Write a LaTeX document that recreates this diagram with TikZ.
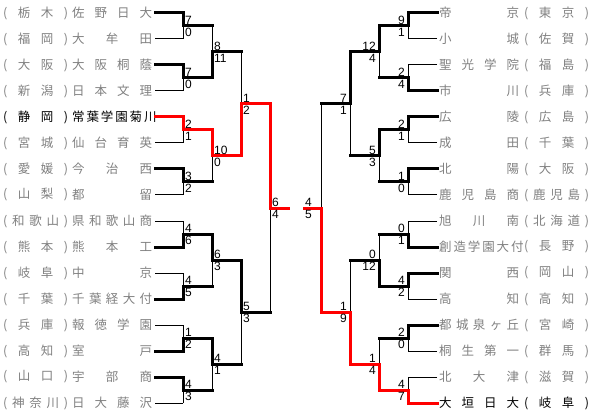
\documentclass[tikz,border=0pt]{standalone}
\usepackage{fontspec}
\setmainfont{Liberation Sans}
\newfontfamily\jpfont{Noto Sans CJK JP}
\definecolor{BrRed}{HTML}{FF0000}
\definecolor{BrGray}{HTML}{808080}
\tikzset{
  lost/.style={black,line width=1pt},
  won/.style={black,line width=3pt,line cap=rect},
  pick/.style={BrRed,line width=3pt,line cap=rect},
  team/.style={inner sep=0pt,font=\jpfont\fontsize{12.5}{14}\selectfont},
  score/.style={inner sep=0pt,font=\fontsize{12}{13}\selectfont}
}
\begin{document}
\begin{tikzpicture}[x=1pt,y=-1pt,line join=miter]
  \useasboundingbox (0,0) rectangle (592,417);
  % left block: prefecture, school, first-round line
  \foreach \i/\p/\n/\c/\s in {0/{( 栃 木 )}/{佐 野 日 大}/BrGray/won,
      1/{( 福 岡 )}/{大 牟 田}/BrGray/lost, 2/{( 大 阪 )}/{大 阪 桐 蔭}/BrGray/won,
      3/{( 新 潟 )}/{日 本 文 理}/BrGray/lost, 4/{( 静 岡 )}/{常 葉 学 園 菊 川}/black/pick,
      5/{( 宮 城 )}/{仙 台 育 英}/BrGray/lost, 6/{( 愛 媛 )}/{今 治 西}/BrGray/won,
      7/{( 山 梨 )}/{都 留}/BrGray/lost, 8/{( 和 歌 山 )}/{県 和 歌 山 商}/BrGray/lost,
      9/{( 熊 本 )}/{熊 本 工}/BrGray/won, 10/{( 岐 阜 )}/{中 京}/BrGray/lost,
      11/{( 千 葉 )}/{千 葉 経 大 付}/BrGray/won, 12/{( 兵 庫 )}/{報 徳 学 園}/BrGray/lost,
      13/{( 高 知 )}/{室 戸}/BrGray/won, 14/{( 山 口 )}/{宇 部 商}/BrGray/won,
      15/{( 神 奈 川 )}/{日 大 藤 沢}/BrGray/lost}{
    \node[team,text=\c,anchor=west] (LP\i) at (3,{13+26*\i}) {\makebox[65pt][s]{\p}};
    \node[team,text=\c,anchor=west] (LN\i) at (72,{13+26*\i}) {\makebox[80pt][s]{\n}};
    \draw[\s] ([xshift=3pt]LN\i.east) -- (183,{13+26*\i});
  }
  % right block
  \foreach \i/\n/\p/\c/\s in {0/{帝 京}/{( 東 京 )}/BrGray/won,
      1/{小 城}/{( 佐 賀 )}/BrGray/lost, 2/{聖 光 学 院}/{( 福 島 )}/BrGray/lost,
      3/{市 川}/{( 兵 庫 )}/BrGray/won, 4/{広 陵}/{( 広 島 )}/BrGray/won,
      5/{成 田}/{( 千 葉 )}/BrGray/lost, 6/{北 陽}/{( 大 阪 )}/BrGray/won,
      7/{鹿 児 島 商}/{( 鹿 児 島 )}/BrGray/lost, 8/{旭 川 南}/{( 北 海 道 )}/BrGray/lost,
      9/{創 造 学 園 大 付}/{( 長 野 )}/BrGray/won, 10/{関 西}/{( 岡 山 )}/BrGray/won,
      11/{高 知}/{( 高 知 )}/BrGray/lost, 12/{都 城 泉 ヶ 丘}/{( 宮 崎 )}/BrGray/won,
      13/{桐 生 第 一}/{( 群 馬 )}/BrGray/lost, 14/{北 大 津}/{( 滋 賀 )}/BrGray/lost,
      15/{大 垣 日 大}/{( 岐 阜 )}/black/pick}{
    \node[team,text=\c,anchor=west] (RN\i) at (439,{13+26*\i}) {\makebox[80pt][s]{\n}};
    \node[team,text=\c,anchor=west] (RP\i) at (524,{13+26*\i}) {\makebox[65pt][s]{\p}};
    \draw[\s] ([xshift=-2pt]RN\i.west) -- (408,{13+26*\i});
  }
  % left games: x/y/half/next x/scores/upper, lower, exit line
  \foreach \cx/\cy/\cd/\nx/\ga/\gb/\tu/\tl/\te [count=\m] in {
      183/26/13/212/7/0/won/lost/won, 183/78/13/212/7/0/won/lost/won,
      183/130/13/212/2/1/pick/lost/pick, 183/182/13/212/3/2/won/lost/won,
      183/234/13/212/4/6/lost/won/won, 183/286/13/212/4/5/lost/won/won,
      183/338/13/212/1/2/lost/won/won, 183/390/13/212/4/3/won/lost/won,
      212/52/26/241/8/11/lost/won/won, 212/156/26/241/10/0/pick/lost/pick,
      212/260/26/241/6/3/won/lost/won, 212/364/26/241/4/1/won/lost/won,
      241/104/52/270/1/2/lost/pick/pick, 241/312/52/270/5/3/won/lost/won,
      270/208/104/288/6/4/pick/lost/pick}{
    \coordinate (LJ\m) at (\cx,\cy);
    \draw[\tu] (\cx,\cy-\cd) -- (LJ\m);
    \draw[\tl] (\cx,\cy+\cd) -- (LJ\m);
    \draw[\te] (LJ\m) -- (\nx,\cy);
    \node[score,anchor=south west] (LA\m) at (\cx+2,\cy-1.5) {\ga};
    \node[score,anchor=north west] (LB\m) at (\cx+2,\cy+2) {\gb};
  }
  % right games, with the score offset
  \foreach \cx/\cy/\cd/\nx/\so/\ga/\gb/\tu/\tl/\te [count=\m] in {
      408/26/13/379/3/9/1/won/lost/won, 408/78/13/379/3/2/4/lost/won/won,
      408/130/13/379/3/2/1/won/lost/won, 408/182/13/379/3/1/0/won/lost/won,
      408/234/13/379/3/0/1/lost/won/won, 408/286/13/379/3/4/2/won/lost/won,
      408/338/13/379/3/2/0/won/lost/won, 408/390/13/379/3/4/7/lost/pick/pick,
      379/52/26/350/3/12/4/won/lost/won, 379/156/26/350/3/5/3/won/lost/won,
      379/260/26/350/3/0/12/lost/won/won, 379/364/26/350/3/1/4/lost/pick/pick,
      350/104/52/321/3/7/1/won/lost/won, 350/312/52/321/3/1/9/lost/pick/pick,
      321/208/104/304/9/4/5/lost/pick/pick}{
    \coordinate (RJ\m) at (\cx,\cy);
    \draw[\tu] (\cx,\cy-\cd) -- (RJ\m);
    \draw[\tl] (\cx,\cy+\cd) -- (RJ\m);
    \draw[\te] (RJ\m) -- (\nx,\cy);
    \node[score,anchor=south east] (RA\m) at (\cx-\so,\cy-1.5) {\ga};
    \node[score,anchor=north east] (RB\m) at (\cx-\so,\cy+2) {\gb};
  }
\end{tikzpicture}
\end{document}
